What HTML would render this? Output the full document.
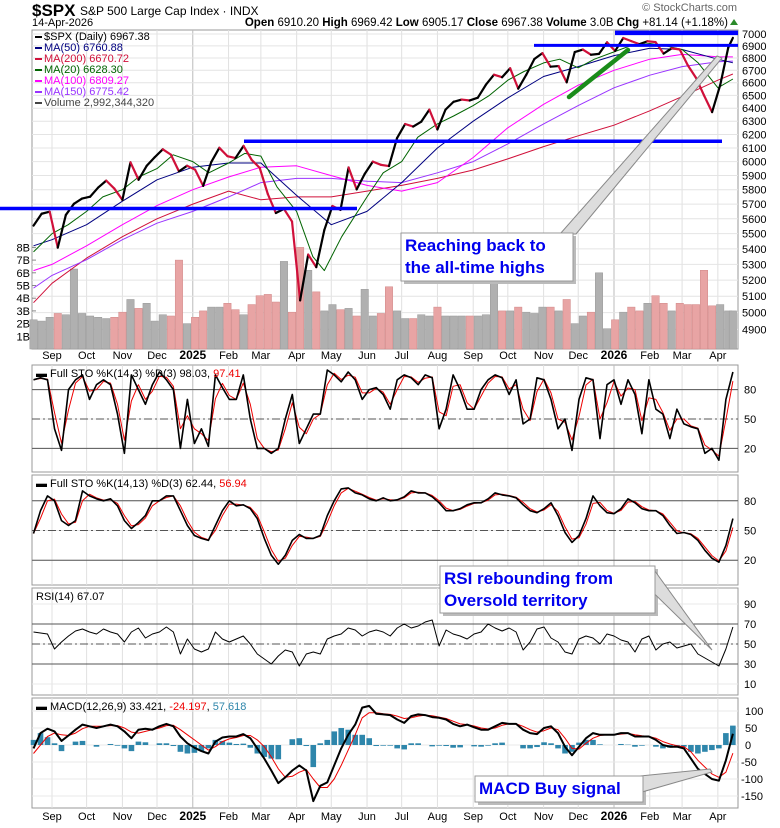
<!DOCTYPE html>
<html><head><meta charset="utf-8">
<style>
body{margin:0;background:#fff;font-family:"Liberation Sans",Arial,sans-serif;}
#wrap{position:relative;width:780px;height:828px;overflow:hidden;}
svg text{font-family:"Liberation Sans",Arial,sans-serif;}
</style></head>
<body>
<div id="wrap">
<svg id="chart" width="780" height="828" viewBox="0 0 780 828">
  <text x="32" y="16" font-size="17" font-weight="bold">$SPX</text>
  <text x="80" y="15" font-size="12">S&amp;P 500 Large Cap Index · INDX</text>
  <text x="32" y="26" font-size="11">14-Apr-2026</text>
  <text x="737" y="11" font-size="11" fill="#666" text-anchor="end">© StockCharts.com</text>
  <text x="728" y="26" font-size="11.5" text-anchor="end"><tspan font-weight="bold">Open</tspan> 6910.20  <tspan font-weight="bold">High</tspan> 6969.42  <tspan font-weight="bold">Low</tspan> 6905.17  <tspan font-weight="bold">Close</tspan> 6967.38  <tspan font-weight="bold">Volume</tspan> 3.0B  <tspan font-weight="bold">Chg</tspan> +81.14 (+1.18%)</text>
  <polygon points="730,25 738,25 734,19" fill="#2a8a2a"/>
  <g id="layer"></g>
</svg>
</div>
<script>
// ---------- DATA ----------
const monthLabels=["Sep","Oct","Nov","Dec","2025","Feb","Mar","Apr","May","Jun","Jul","Aug","Sep","Oct","Nov","Dec","2026","Feb","Mar","Apr"];
const monthDates=["2024-09-01","2024-10-01","2024-11-01","2024-12-01","2025-01-01","2025-02-01","2025-03-01","2025-04-01","2025-05-01","2025-06-01","2025-07-01","2025-08-01","2025-09-01","2025-10-01","2025-11-01","2025-12-01","2026-01-01","2026-02-01","2026-03-01","2026-04-01"];
const priceTicks=[7000,6900,6800,6700,6600,6500,6400,6300,6200,6100,6000,5900,5800,5700,5600,5500,5400,5300,5200,5100,5000,4900];
const volTicks=[1,2,3,4,5,6,7,8];
const closes=[5554,5634,5648,5408,5626,5702,5738,5751,5815,5864,5808,5729,5995,5870,5969,6032,6090,6051,5930,5970,5942,5827,5997,6101,6040,6026,6115,6013,5955,5770,5639,5667,5581,5074,5363,5282,5525,5687,5660,5958,5802,5912,6000,5977,5968,6173,6279,6260,6297,6389,6238,6389,6450,6467,6460,6482,6584,6664,6644,6716,6553,6664,6792,6840,6729,6734,6603,6849,6870,6827,6834,6930,6858,6966,6940,6915,6939,6932,6836,6880,6870,6740,6640,6500,6370,6580,6886,6967];
const volumes=[2.3,2.2,2.5,2.8,2.7,6.3,2.8,2.6,2.5,2.4,2.5,2.9,3.9,3.2,3.6,2.2,2.7,2.6,7.0,2.0,2.5,3.0,3.3,3.3,3.6,3.1,2.7,3.5,4.2,4.3,3.7,6.9,2.9,8.0,6.2,4.5,3.0,3.5,3.1,3.2,2.6,4.7,2.6,2.8,4.9,3.0,2.4,2.4,2.7,2.6,3.3,2.6,2.6,2.6,2.6,2.6,2.7,5.6,3.0,3.0,3.3,2.9,2.8,3.3,3.3,3.0,3.9,2.0,2.6,2.9,6.0,1.6,2.3,2.9,3.3,3.0,3.6,4.2,3.6,3.0,3.6,3.5,3.5,6.2,3.4,3.5,3.0,3.0];
const maDates=["2024-08-16","2024-09-01","2024-10-01","2024-11-01","2024-12-01","2025-01-01","2025-02-01","2025-03-01","2025-04-01","2025-05-01","2025-06-01","2025-07-01","2025-08-01","2025-09-01","2025-10-01","2025-11-01","2025-12-01","2026-01-01","2026-02-01","2026-03-01","2026-04-01","2026-04-14"];
const ma200=[5060,5180,5340,5480,5600,5700,5790,5730,5750,5750,5790,5830,5880,5940,6020,6110,6190,6270,6380,6490,6620,6670];
const ma150=[5150,5230,5330,5460,5570,5650,5750,5850,5880,5880,5860,5850,5920,6000,6130,6280,6420,6560,6660,6730,6770,6775];
const ma100=[5260,5300,5420,5560,5690,5800,5890,5960,5970,5900,5830,5790,5850,6030,6250,6430,6580,6700,6790,6830,6810,6809];
const ma50=[5420,5460,5560,5720,5870,5960,5990,5990,5760,5560,5650,5850,6100,6300,6480,6650,6730,6820,6880,6870,6790,6761];
const ma20Dates=["2024-08-16","2024-09-01","2024-09-15","2024-10-01","2024-10-15","2024-11-01","2024-11-15","2024-12-01","2024-12-15","2025-01-01","2025-01-15","2025-02-01","2025-02-15","2025-03-01","2025-03-15","2025-04-01","2025-04-15","2025-04-25","2025-05-10","2025-06-01","2025-06-15","2025-07-01","2025-07-15","2025-08-01","2025-08-15","2025-09-01","2025-09-15","2025-10-01","2025-10-15","2025-11-01","2025-11-15","2025-12-01","2025-12-15","2026-01-01","2026-01-15","2026-02-01","2026-02-15","2026-03-01","2026-03-15","2026-04-01","2026-04-14"];
const ma20=[5380,5500,5560,5650,5750,5800,5890,5950,6050,6000,5920,5990,6060,6040,5820,5650,5350,5260,5480,5750,5920,6000,6180,6280,6340,6420,6500,6620,6690,6760,6790,6720,6790,6850,6900,6920,6900,6870,6760,6560,6630];
const sto1K=[90,92,90,40,18,80,90,95,70,85,90,85,55,15,95,80,65,85,98,90,80,20,70,25,40,22,95,82,70,70,95,50,20,20,15,20,50,75,25,40,55,55,100,95,88,98,90,70,80,82,75,60,90,95,92,85,95,92,40,60,95,80,60,60,80,90,95,92,75,90,45,50,92,90,70,40,50,18,70,92,90,30,85,90,65,90,75,35,90,60,55,30,60,45,42,40,15,20,8,70,98];
const sto2K=[47,70,85,80,60,55,60,90,85,82,80,82,75,60,52,58,65,80,80,85,85,70,55,45,42,40,55,70,80,75,76,72,62,42,25,16,25,40,46,42,42,45,65,80,92,93,88,86,82,80,83,80,81,84,90,88,88,84,78,70,70,72,76,78,78,82,88,86,85,83,76,70,68,72,78,65,48,38,45,62,85,75,68,67,72,82,78,72,70,70,65,55,47,48,46,40,30,22,18,35,62];
const rsi=[62,61,60,45,52,58,63,65,62,60,65,62,60,52,62,66,56,60,62,67,62,40,55,45,42,45,62,55,52,55,58,50,40,35,30,38,44,42,28,40,42,40,55,58,60,66,64,58,62,64,62,58,66,70,66,68,72,74,48,64,60,58,55,60,62,70,66,63,66,62,44,52,65,67,56,52,42,40,55,58,56,50,60,58,54,52,42,55,58,44,50,52,46,48,50,40,36,32,28,45,67];
const macd=[-10,35,48,40,12,28,45,60,55,50,55,60,55,40,20,45,48,45,55,62,55,25,5,-8,-18,-25,10,22,25,25,32,20,-10,-40,-75,-112,-95,-75,-60,-75,-165,-120,-110,-60,-10,30,60,110,115,92,90,88,75,65,85,90,88,82,80,75,62,55,60,52,45,45,55,65,62,62,45,35,32,50,55,35,-5,-30,-5,20,35,30,30,30,35,35,25,25,25,15,0,-5,-5,-10,-40,-70,-85,-100,-105,-45,33];
const macdSignal=[-25,0,25,35,30,28,35,48,55,55,55,57,57,50,38,35,40,45,50,57,58,45,30,15,0,-15,-5,10,18,22,28,28,15,-5,-35,-70,-95,-92,-80,-72,-100,-125,-125,-100,-60,-15,30,80,95,95,92,90,85,78,80,85,88,86,82,78,70,62,60,56,50,47,50,58,62,62,55,45,38,42,50,45,20,-10,-12,5,20,28,30,30,32,34,30,27,25,20,10,3,-2,-5,-20,-45,-65,-85,-95,-80,-24];

// ---------- SCALES ----------
const NS="http://www.w3.org/2000/svg";
const layer=document.getElementById('layer');
const DAY=86400000;
const d0=Date.UTC(2024,8,1);
const startDate=Date.UTC(2024,7,16), endDate=Date.UTC(2026,3,14);
function parseD(s){const p=s.split('-');return Date.UTC(+p[0],+p[1]-1,+p[2]);}
function xOfT(t){return 52+(t-d0)/DAY*1.154;}
function xOf(s){return xOfT(parseD(s));}
function weekT(i){return i<closes.length-1? startDate+7*i*DAY : endDate;}
function oscT(i,n){return startDate+(endDate-startDate)*i/(n-1);}
function yPrice(p){return 34+828*Math.log(7000/p);}
function yVol(v){return 349-v*12.7;}
const L=32,R=738;
const panels={
 sto1:{top:365,bot:472,y:v=>468-v*0.98},
 sto2:{top:475,bot:585,y:v=>580-v*0.99},
 rsi:{top:588,bot:695,y:v=>694-v*1.0},
 macd:{top:698,bot:808,y:v=>745-v*0.34}
};
function el(tag,attrs,parent){const e=document.createElementNS(NS,tag);for(const k in attrs)e.setAttribute(k,attrs[k]);(parent||layer).appendChild(e);return e;}
function polyline(pts,stroke,w,name){
  const e=el('polyline',{points:pts.map(p=>p[0].toFixed(1)+','+p[1].toFixed(1)).join(' '),fill:'none',stroke:stroke,'stroke-width':w,'stroke-linejoin':'round'});
  
  
  return e;
}
function txt(x,y,s,attrs,name){const e=el('text',Object.assign({x:x,y:y,'font-size':11},attrs||{}));e.textContent=s;
  
  
  return e;}

// ---------- PANEL FRAMES / GRID ----------
function frame(top,bot,name){
  const r=el('rect',{x:L,y:top,width:R-L,height:bot-top,fill:'#fff',stroke:'#999','stroke-width':1});
  
  
  monthDates.forEach((m,i)=>{const x=xOf(m);const g=el('line',{x1:x,x2:x,y1:top,y2:bot,stroke:(monthLabels[i].length===4?'#bbb':'#e0e0e0'),'stroke-width':1});
    
    });
}
frame(30,349,'price-panel');
priceTicks.forEach(p=>{const y=yPrice(p);const g=el('line',{x1:L,x2:R,y1:y,y2:y,stroke:'#e4e4e4'});
  
  
  txt(742,y+4,String(p),{},'price-tick-label');});
volTicks.forEach(v=>{txt(30,yVol(v)+4,v+'B',{'text-anchor':'end'},'volume-tick-label');
  const t=el('line',{x1:L,x2:L+4,y1:yVol(v),y2:yVol(v),stroke:'#888'});
  
  });

// volume bars
const vw=7*1.154*0.92;
volumes.forEach((v,i)=>{const x=xOfT(weekT(i));const up=i===0||closes[i]>=closes[i-1];
  const b=el('rect',{x:x-vw/2,y:yVol(v),width:vw,height:349-yVol(v),fill:up?'#b0b0b0':'#e8a4a4',stroke:up?'#999':'#d08888','stroke-width':0.5});
  
  });

// moving averages
polyline(maDates.map((d,i)=>[xOf(d),yPrice(ma200[i])]),'#d0103a',1,'ma200-line');
polyline(maDates.map((d,i)=>[xOf(d),yPrice(ma150[i])]),'#9933ff',1,'ma150-line');
polyline(maDates.map((d,i)=>[xOf(d),yPrice(ma100[i])]),'#ff00ff',1,'ma100-line');
polyline(maDates.map((d,i)=>[xOf(d),yPrice(ma50[i])]),'#000080',1,'ma50-line');
polyline(ma20Dates.map((d,i)=>[xOf(d),yPrice(ma20[i])]),'#006400',1,'ma20-line');

// price
for(let i=1;i<closes.length;i++){
  const dn=closes[i]<closes[i-1];
  const s=el('line',{x1:xOfT(weekT(i-1)),y1:yPrice(closes[i-1]),x2:xOfT(weekT(i)),y2:yPrice(closes[i]),stroke:dn?'#d0103a':'#000','stroke-width':2.2,'stroke-linecap':'round'});
  
  
}

// annotations (price level lines)
function hline(x1,x2,p,w,name){const y=yPrice(p);const e=el('line',{x1:x1,x2:x2,y1:y,y2:y,stroke:'#0000ff','stroke-width':w});
  
  }
hline(0,357,5670,3.5,'support-line-2024');
hline(244,722,6150,3.5,'feb-2025-high-line');
hline(534,738,6905,3,'oct-2025-high-line');
hline(615,738,7010,4.5,'all-time-high-line');
const gl=el('line',{x1:569,y1:97,x2:628,y2:50,stroke:'#1a8c1a','stroke-width':4.5,'stroke-linecap':'round'});



// legend
const legend=[['$SPX (Daily) 6967.38','#000'],['MA(50) 6760.88','#000080'],['MA(200) 6670.72','#d0103a'],['MA(20) 6628.30','#006400'],['MA(100) 6809.27','#ff00ff'],['MA(150) 6775.42','#9933ff'],['Volume 2,992,344,320','#444']];
legend.forEach((l,i)=>{const y=40+i*11;
  const sw=el('rect',{x:35,y:y-4,width:7,height:2,fill:l[1]});
  
  
  txt(44,y,l[0],{fill:l[1],'font-size':11},'legend-entry');});

// ---------- OSCILLATORS ----------
function dLine(a){return a.map((v,i)=>i===0?v:(2*v+a[i-1])/3);}
function oscPanel(key,vals,d,levels,ticks,label,name){
  const P=panels[key];frame(P.top,P.bot,name+'-panel');
  ticks.forEach(t=>{const y=P.y(t);const g=el('line',{x1:L,x2:R,y1:y,y2:y,stroke:'#e8e8e8'});
    
    
    txt(744,y+4,String(t),{},name+'-tick-label');});
  levels.forEach(lv=>{const y=P.y(lv[0]);const g=el('line',{x1:L,x2:R,y1:y,y2:y,stroke:'#555','stroke-width':1,'stroke-dasharray':lv[1]?'8,3,2,3':'none'});
    
    });
  const n=vals.length;
  if(d) polyline(d.map((v,i)=>[xOfT(oscT(i,n)),P.y(v)]),'#e00',1,name+'-d-line');
  polyline(vals.map((v,i)=>[xOfT(oscT(i,n)),P.y(v)]),'#000',key==='rsi'?1:1.6,name+'-k-line');
  const t=txt(36,P.top+12,'',{'font-size':11},name+'-title');
  t.innerHTML=label;
}
oscPanel('sto1',sto1K,dLine(sto1K),[[80,0],[50,1],[20,0]],[80,50,20],'▬ Full STO %K(14,3) %D(3) 98.03, <tspan fill="#e00">97.41</tspan>','sto-fast');
oscPanel('sto2',sto2K,dLine(sto2K),[[80,0],[50,1],[20,0]],[80,50,20],'▬ Full STO %K(14,13) %D(3) 62.44, <tspan fill="#e00">56.94</tspan>','sto-slow');
oscPanel('rsi',rsi,null,[[70,0],[50,1],[30,0]],[90,70,50,30,10],'RSI(14) 67.07','rsi');

// MACD
(function(){
  const P=panels.macd;frame(P.top,P.bot,'macd-panel');
  [100,50,0,-50,-100,-150].forEach(t=>{const y=P.y(t);const g=el('line',{x1:L,x2:R,y1:y,y2:y,stroke:'#e8e8e8'});
    
    
    txt(t<0?741:745,y+4,String(t),{},'macd-tick-label');});
  const n=macd.length;const bw=(xOfT(oscT(1,n))-xOfT(oscT(0,n)))*0.8;
  macd.forEach((v,i)=>{const h=v-macdSignal[i];const x=xOfT(oscT(i,n));const y0=P.y(0),y1=P.y(h);
    const b=el('rect',{x:x-bw/2,y:Math.min(y0,y1),width:bw,height:Math.abs(y1-y0),fill:'#2e86ab'});
    
    });
  polyline(macdSignal.map((v,i)=>[xOfT(oscT(i,n)),P.y(v)]),'#e00',1,'macd-signal-line');
  polyline(macd.map((v,i)=>[xOfT(oscT(i,n)),P.y(v)]),'#000',2,'macd-line');
  const t=txt(36,P.top+12,'',{'font-size':11},'macd-title');
  t.innerHTML='▬ MACD(12,26,9) 33.421, <tspan fill="#e00">-24.197</tspan>, <tspan fill="#2e86ab">57.618</tspan>';
})();

// month axes
monthLabels.forEach((m,i)=>{const x=xOf(monthDates[i]);const bold=m.length===4;
  txt(x,359,m,{'text-anchor':'middle','font-weight':bold?'bold':'normal','font-size':bold?12:11},'top-x-axis-label');
  txt(x,820,m,{'text-anchor':'middle','font-weight':bold?'bold':'normal','font-size':bold?12:11},'bottom-x-axis-label');
});

// callouts
function callout(box,tip,lines,name){
  const [x,y,w,h]=box;
  const sh=el('rect',{x:x+3,y:y+3,width:w,height:h,fill:'#bbb'});
  
  
  const pt=el('polygon',{points:tip,fill:'#ddd',stroke:'#888','stroke-width':1});
  
  
  const r=el('rect',{x:x,y:y,width:w,height:h,fill:'#fff',stroke:'#999'});
  
  
  lines.forEach((s,i)=>txt(x+4,y+18+i*22,s,{fill:'#0000ee','font-size':17,'font-weight':'bold'},name+'-text'));
}
callout([401,233,172,48],'560,234 576,234 722,58 717,56','Reaching back to|the all-time highs'.split('|'),'ath-callout');
callout([440,566,215,47],'627,567 652,567 712,650','RSI rebounding from|Oversold territory'.split('|'),'rsi-callout');
callout([475,776,168,26],'630,777 642,792 712,772 710,769','MACD Buy signal'.split('|'),'macd-callout');
</script>
</body></html>
